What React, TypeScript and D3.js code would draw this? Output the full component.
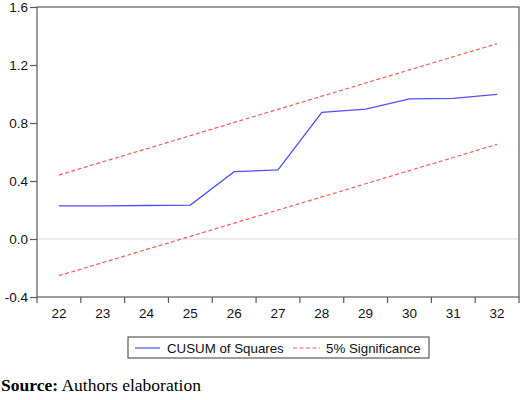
import React, { useEffect, useRef } from 'react';
import * as d3 from 'd3';

const periods = [22, 23, 24, 25, 26, 27, 28, 29, 30, 31, 32];
const cusumSq = [0.228, 0.229, 0.231, 0.234, 0.464, 0.476, 0.874, 0.895, 0.966, 0.97, 0.998];
const upperBound = [0.441, 0.532, 0.622, 0.713, 0.804, 0.894, 0.985, 1.076, 1.166, 1.257, 1.347];
const lowerBound = [-0.253, -0.163, -0.072, 0.018, 0.109, 0.2, 0.29, 0.381, 0.472, 0.562, 0.653];
const yTicks = [-0.4, 0.0, 0.4, 0.8, 1.2, 1.6];

const W = 520;
const H = 400;
const margin = { top: 7, right: 1, bottom: 103, left: 37 };
const blue = '#4f4fff';
const red = '#ff5a5a';
const axisColor = '#5a5a5a';
const sans = '"Liberation Sans", Arial, sans-serif';

const draw = (el: SVGSVGElement) => {
  const svg = d3.select(el);
  svg.selectAll('*').remove();

  const x = d3
    .scaleLinear()
    .domain([periods[0] - 0.5, periods[periods.length - 1] + 0.5])
    .range([margin.left, W - margin.right]);
  const y = d3
    .scaleLinear()
    .domain([-0.4, 1.6])
    .range([H - margin.bottom, margin.top]);

  // zero line
  svg
    .append('line')
    .attr('x1', x.range()[0])
    .attr('x2', x.range()[1])
    .attr('y1', y(0))
    .attr('y2', y(0))
    .attr('stroke', '#d9d9d9')
    .attr('stroke-width', 1);

  // frame
  svg
    .append('rect')
    .attr('x', x.range()[0])
    .attr('y', y.range()[1])
    .attr('width', x.range()[1] - x.range()[0])
    .attr('height', y.range()[0] - y.range()[1])
    .attr('fill', 'none')
    .attr('stroke', axisColor)
    .attr('stroke-width', 1.2);

  // y axis
  const yAxis = svg
    .append('g')
    .attr('transform', `translate(${margin.left},0)`)
    .call(
      d3
        .axisLeft(y)
        .tickValues(yTicks)
        .tickFormat((d) => (d as number).toFixed(1))
        .tickSize(7)
        .tickPadding(2),
    );
  yAxis.select('.domain').remove();
  yAxis.selectAll('line').attr('stroke', axisColor).attr('stroke-width', 1.2);
  yAxis
    .selectAll('text')
    .attr('fill', '#111')
    .attr('font-family', sans)
    .attr('font-size', 13.5);

  // x axis: ticks at period boundaries, labels centred
  const bounds = periods.map((p) => p - 0.5).concat(periods[periods.length - 1] + 0.5);
  const xAxis = svg.append('g').attr('transform', `translate(0,${y.range()[0]})`);
  xAxis
    .selectAll('line')
    .data(bounds)
    .join('line')
    .attr('x1', (d) => x(d))
    .attr('x2', (d) => x(d))
    .attr('y1', 0)
    .attr('y2', 6)
    .attr('stroke', axisColor)
    .attr('stroke-width', 1.2);
  xAxis
    .selectAll('text')
    .data(periods)
    .join('text')
    .attr('x', (d) => x(d))
    .attr('y', 20.5)
    .attr('text-anchor', 'middle')
    .attr('font-family', sans)
    .attr('font-size', 13.5)
    .attr('fill', '#111')
    .text((d) => d);

  const line = (vals: number[]) =>
    d3
      .line<number>()
      .x((_, i) => x(periods[i]))
      .y((d) => y(d))(vals);

  svg
    .append('path')
    .attr('d', line(upperBound))
    .attr('fill', 'none')
    .attr('stroke', red)
    .attr('stroke-width', 1.2)
    .attr('stroke-dasharray', '4,2.5');
  svg
    .append('path')
    .attr('d', line(lowerBound))
    .attr('fill', 'none')
    .attr('stroke', red)
    .attr('stroke-width', 1.2)
    .attr('stroke-dasharray', '4,2.5');
  svg
    .append('path')
    .attr('d', line(cusumSq))
    .attr('fill', 'none')
    .attr('stroke', blue)
    .attr('stroke-width', 1.3);

  // legend
  const lg = svg.append('g');
  lg.append('rect')
    .attr('x', 128)
    .attr('y', 337)
    .attr('width', 301)
    .attr('height', 21)
    .attr('fill', 'white')
    .attr('stroke', axisColor)
    .attr('stroke-width', 1.2);
  lg.append('line')
    .attr('x1', 135)
    .attr('x2', 160)
    .attr('y1', 348)
    .attr('y2', 348)
    .attr('stroke', blue)
    .attr('stroke-width', 1.2);
  lg.append('text')
    .attr('x', 167)
    .attr('y', 352.5)
    .attr('font-family', sans)
    .attr('font-size', 13.3)
    .attr('fill', '#111')
    .text('CUSUM of Squares');
  lg.append('line')
    .attr('x1', 293)
    .attr('x2', 320)
    .attr('y1', 348)
    .attr('y2', 348)
    .attr('stroke', red)
    .attr('stroke-width', 1.2)
    .attr('stroke-dasharray', '4,2.5');
  lg.append('text')
    .attr('x', 326)
    .attr('y', 352.5)
    .attr('font-family', sans)
    .attr('font-size', 13.3)
    .attr('fill', '#111')
    .text('5% Significance');

  // source note
  const src = svg
    .append('text')
    .attr('x', 1)
    .attr('y', 391)
    .attr('font-family', '"Liberation Serif", "Times New Roman", serif')
    .attr('font-size', 17.5)
    .attr('fill', '#000');
  src.append('tspan').attr('font-weight', 'bold').text('Source:');
  src.append('tspan').text(' Authors elaboration');
};

const App = () => {
  const ref = useRef<SVGSVGElement>(null);
  useEffect(() => {
    if (ref.current) draw(ref.current);
  }, []);
  return (
    <div style={{ position: 'absolute', left: 0, top: 0 }}>
      <svg ref={ref} width={W} height={H} style={{ display: 'block', background: 'white' }} />
    </div>
  );
};

export default App;
